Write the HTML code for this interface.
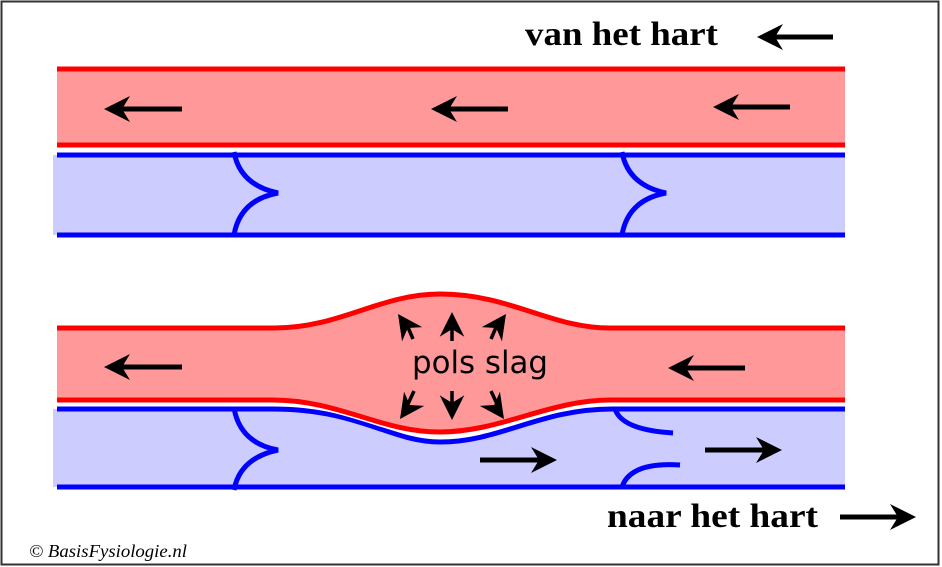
<!DOCTYPE html>
<html><head><meta charset="utf-8"><style>
html,body{margin:0;padding:0;background:#fff}
svg{display:block}
</style></head><body>
<svg width="942" height="567" viewBox="0 0 942 567" xmlns="http://www.w3.org/2000/svg">
<defs>
<g id="ah"><path d="M0,0 L-26,-13 L-18,0 L-26,13 Z" fill="#000"/></g>
</defs>
<rect x="1.5" y="1.5" width="937" height="563" fill="#fff" stroke="#333" stroke-width="2"/>
<rect x="57" y="69" width="788" height="76" fill="#ff9999"/>
<line x1="57" y1="69" x2="845" y2="69" stroke="#f00" stroke-width="5"/>
<line x1="57" y1="145" x2="845" y2="145" stroke="#f00" stroke-width="5"/>
<rect x="53" y="155" width="792" height="80" fill="#ccccff"/>
<line x1="57" y1="155" x2="845" y2="155" stroke="#00f" stroke-width="5"/>
<line x1="57" y1="235" x2="845" y2="235" stroke="#00f" stroke-width="5"/>
<path d="M234,152 Q240,185 278,193 Q240,200 234,235" fill="none" stroke="#00f" stroke-width="5"/>
<path d="M622,152 Q628,185 666,193 Q628,200 622,235" fill="none" stroke="#00f" stroke-width="5"/>
<path d="M53,409 L272,409 C360,409 390,442 440,442 C500,442 540,409 612,409 L845,409 L845,487 L53,487 Z" fill="#ccccff"/>
<path d="M57,409 L272,409 C360,409 390,442 440,442 C500,442 540,409 612,409 L845,409" fill="none" stroke="#00f" stroke-width="5"/>
<line x1="57" y1="487" x2="845" y2="487" stroke="#00f" stroke-width="5"/>
<path d="M234,408 Q240,443 278,450 Q240,458 234,490" fill="none" stroke="#00f" stroke-width="5"/>
<path d="M615,409 Q622,430 673,433" fill="none" stroke="#00f" stroke-width="5"/>
<path d="M622,487 Q630,462 680,465" fill="none" stroke="#00f" stroke-width="5"/>
<path d="M57,328 L275,328 C340,328 380,294 440,294 C510,294 550,328 610,328 L845,328 L845,400 L610,400 C550,400 500,432 440,432 C380,432 340,400 272,400 L57,400 Z" fill="#ff9999"/>
<path d="M57,328 L275,328 C340,328 380,294 440,294 C510,294 550,328 610,328 L845,328" fill="none" stroke="#f00" stroke-width="5"/>
<path d="M57,400 L272,400 C340,400 380,432 440,432 C500,432 550,400 610,400 L845,400" fill="none" stroke="#f00" stroke-width="5"/>
<path d="M272,405 C350,405 385,437 440,437 C500,437 545,405 612,405" fill="none" stroke="#fff" stroke-width="1.5"/>
<g stroke="#000" stroke-width="5">
<line x1="775" y1="37" x2="833" y2="37"/>
<line x1="122" y1="109" x2="182" y2="109"/>
<line x1="449" y1="109" x2="508" y2="109"/>
<line x1="731" y1="107" x2="790" y2="107"/>
<line x1="122" y1="367" x2="182" y2="367"/>
<line x1="686" y1="368" x2="745" y2="368"/>
<line x1="480" y1="460" x2="540" y2="460"/>
<line x1="705" y1="450" x2="765" y2="450"/>
<line x1="840" y1="517" x2="898" y2="517"/>
</g>
<use href="#ah" transform="translate(757,37) rotate(180)"/>
<use href="#ah" transform="translate(104,109) rotate(180)"/>
<use href="#ah" transform="translate(431,109) rotate(180)"/>
<use href="#ah" transform="translate(713,107) rotate(180)"/>
<use href="#ah" transform="translate(104,367) rotate(180)"/>
<use href="#ah" transform="translate(668,368) rotate(180)"/>
<use href="#ah" transform="translate(557,460)"/>
<use href="#ah" transform="translate(782,450)"/>
<use href="#ah" transform="translate(916,517)"/>
<g stroke="#000" stroke-width="3.5">
<line x1="452" y1="322" x2="452" y2="341"/>
<line x1="407" y1="325" x2="413" y2="339"/>
<line x1="497" y1="325" x2="491" y2="339"/>
<line x1="452" y1="391" x2="452" y2="406"/>
<line x1="414" y1="391" x2="408" y2="404"/>
<line x1="491" y1="391" x2="497" y2="404"/>
</g>
<use href="#ah" transform="translate(452,312) rotate(-90) scale(0.95)"/>
<use href="#ah" transform="translate(398,314) rotate(-125) scale(0.95)"/>
<use href="#ah" transform="translate(506,314) rotate(-55) scale(0.95)"/>
<use href="#ah" transform="translate(452,420) rotate(90) scale(0.95)"/>
<use href="#ah" transform="translate(400,419) rotate(125) scale(0.95)"/>
<use href="#ah" transform="translate(504,419) rotate(55) scale(0.95)"/>
<text x="480" y="373" text-anchor="middle" font-family="'DejaVu Sans','Liberation Sans',sans-serif" font-size="31" fill="#000" textLength="136" lengthAdjust="spacingAndGlyphs">pols slag</text>
<text x="525" y="45" font-family="'Liberation Serif',serif" font-weight="bold" font-size="34" fill="#000" textLength="193" lengthAdjust="spacingAndGlyphs">van het hart</text>
<text x="607" y="527" font-family="'Liberation Serif',serif" font-weight="bold" font-size="34" fill="#000" textLength="211" lengthAdjust="spacingAndGlyphs">naar het hart</text>
<text x="29" y="557" font-family="'Liberation Serif',serif" font-style="italic" font-size="18" fill="#000" textLength="158" lengthAdjust="spacingAndGlyphs">© BasisFysiologie.nl</text>
</svg>
</body></html>
